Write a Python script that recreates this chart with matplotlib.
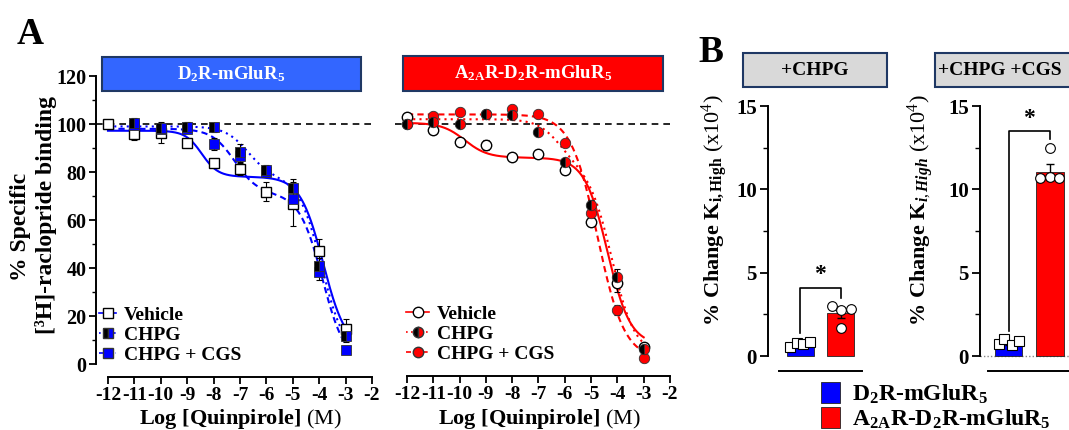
import numpy as np
import matplotlib
matplotlib.use("Agg")
import matplotlib.pyplot as plt
from matplotlib.lines import Line2D
from matplotlib.patches import Rectangle, Patch
from matplotlib.ticker import MultipleLocator

plt.rcParams['font.family'] = ['Liberation Serif', 'DejaVu Serif']
plt.rcParams['mathtext.fontset'] = 'custom'
plt.rcParams['mathtext.rm'] = 'Liberation Serif'
plt.rcParams['mathtext.bf'] = 'Liberation Serif:bold'
plt.rcParams['mathtext.it'] = 'Liberation Serif:italic:bold'

nan = np.nan
# ---------------- data (panel A) ----------------
log_quinpirole = [-12, -11, -10, -9, -8, -7, -6, -5, -4, -3]
x_tick_values = list(range(-12, -1))
y_tick_values_a = [0, 20, 40, 60, 80, 100, 120]

d2_vehicle = [100.0, 95.8, 96.4, 92.0, 83.6, 81.1, 71.8, 66.7, 47.1, 14.6]
d2_vehicle_err = [1.0, 2.5, 4.5, 1.5, 1.5, 2.5, 4.0, 9.0, 5.0, 4.0]
d2_chpg = [nan, 100.3, 98.2, 98.9, 98.6, 88.5, 80.8, 73.4, 41.0, 11.8]
d2_chpg_err = [0.0, 2.0, 2.0, 2.0, 2.0, 3.0, 2.0, 3.5, 3.0, 2.5]
d2_chpg_cgs = [nan, 99.5, 98.0, 98.0, 91.5, 86.7, 80.0, 68.6, 38.2, 5.8]
d2_chpg_cgs_err = [0.0, 1.5, 1.5, 1.5, 2.5, 2.5, 1.5, 3.0, 3.0, 1.5]

a2a_vehicle = [103.0, 97.5, 92.6, 91.3, 86.4, 87.5, 80.8, 59.3, 33.9, 7.2]
a2a_vehicle_err = [1.5, 1.5, 1.5, 2.0, 1.5, 1.5, 1.5, 2.0, 4.0, 1.5]
a2a_chpg = [100.0, 101.0, 100.0, 104.2, 103.7, 96.8, 84.0, 66.2, 36.4, 6.1]
a2a_chpg_err = [1.0, 1.5, 1.0, 1.5, 1.5, 1.5, 1.5, 2.0, 3.0, 1.0]
a2a_chpg_cgs = [100.0, 103.5, 104.9, 104.0, 106.2, 104.2, 92.2, 62.8, 22.5, 2.4]
a2a_chpg_cgs_err = [1.0, 1.0, 1.0, 1.0, 1.0, 1.0, 1.0, 2.0, 2.0, 1.0]

# two-site fit parameters: top, bottom, fraction high, logIC50 high, logIC50 low, hill high, hill low
fit_d2_vehicle = [97.2, 6.0, 0.21, -8.45, -3.85, 1.4, 1.0]
fit_d2_chpg = [99.0, 3.0, 0.22, -6.7, -3.9, 1.0, 1.0]
fit_d2_chpg_cgs = [98.0, 0.0, 0.275, -7.2, -3.88, 1.0, 1.0]
fit_a2a_vehicle = [100.5, 8.0, 0.157, -9.8, -4.38, 1.0, 1.0]
fit_a2a_chpg = [102.0, 4.0, 0.2, -6.2, -4.2, 1.0, 1.0]
fit_a2a_chpg_cgs = [104.0, 2.0, 0.0, -7.0, -4.755, 1.0, 0.85]

series_labels = ['Vehicle', 'CHPG', 'CHPG + CGS']

# ---------------- data (panel B) ----------------
chpg_means = [0.62, 2.56]
chpg_sem = [0.12, 0.3]
chpg_points_d2 = [0.56, 0.80, 0.72, 0.86]
chpg_points_a2a = [3.0, 1.7, 2.76, 2.82]
cgs_means = [0.75, 11.06]
cgs_sem = [0.10, 0.45]
cgs_points_d2 = [0.72, 1.0, 0.66, 0.92]
cgs_points_a2a = [10.66, 12.46, 10.76, 10.66]
y_tick_values_b = [0, 5, 10, 15]

W, H = 1069, 430
fig = plt.figure(figsize=(W / 100, H / 100), dpi=100)

def add_ax(l, t, r, b):
    return fig.add_axes([l / W, 1 - b / H, (r - l) / W, (b - t) / H])

def px_text(x, y, s, **kw):
    return fig.text(x / W, 1 - y / H, s, **kw)

def px_rect(x0, y0, x1, y1, fc, ec='#1F3864'):
    fig.add_artist(Rectangle((x0 / W, 1 - y1 / H), (x1 - x0) / W, (y1 - y0) / H,
                             transform=fig.transFigure, facecolor=fc, edgecolor=ec, lw=1.5))

def two_site(x, p):
    top, bottom, fh, ich, icl, hh, hl = p
    return bottom + (top - bottom) * (fh / (1 + 10 ** ((x - ich) * hh)) +
                                      (1 - fh) / (1 + 10 ** ((x - icl) * hl)))

xfit = np.linspace(-12, -3, 400)

def style_a(ax, show_y):
    ax.set_xlim(-12.4545, -2)
    ax.patch.set_alpha(0)
    for s in ['top', 'right']:
        ax.spines[s].set_visible(False)
    ax.spines['bottom'].set_bounds(-12, -2)
    ax.spines['bottom'].set_linewidth(1.4)
    ax.set_xticks(x_tick_values)
    ax.set_xticklabels([str(v) for v in x_tick_values])
    ax.tick_params(axis='x', direction='out', length=5, width=1.3, labelsize=14, pad=2)
    for lab in ax.get_xticklabels():
        lab.set_fontweight('bold')
    if show_y:
        ax.spines['left'].set_bounds(0, 120)
        ax.spines['left'].set_linewidth(1.4)
        ax.set_yticks(y_tick_values_a)
        ax.yaxis.set_minor_locator(MultipleLocator(10))
        ax.tick_params(axis='y', which='major', direction='out', length=5, width=1.3, labelsize=14.5, pad=2)
        ax.tick_params(axis='y', which='minor', direction='out', length=3, width=1.0)
        for lab in ax.get_yticklabels():
            lab.set_fontweight('bold')
    else:
        ax.spines['left'].set_visible(False)
        ax.set_yticks([])
    ax.axhline(100, color='black', ls=(0, (4, 3)), lw=1.2, zorder=1)

# -------- Panel A1: D2R-mGluR5 --------
ax1 = add_ax(96, 76, 372, 377)
ax1.set_ylim(120 - 301 / 2.4, 120)
style_a(ax1, True)
blue = '#0000FF'
ax1.plot(xfit, two_site(xfit, fit_d2_vehicle), color=blue, lw=1.5, ls='-', zorder=2)
ax1.plot(xfit, two_site(xfit, fit_d2_chpg), color=blue, lw=1.5, ls=(0, (1, 2)), zorder=2)
ax1.plot(xfit, two_site(xfit, fit_d2_chpg_cgs), color=blue, lw=1.5, ls=(0, (3, 2)), zorder=2)
eb = dict(fmt='none', ecolor='black', elinewidth=0.8, capsize=2.5, capthick=0.8, zorder=3)
ax1.errorbar(log_quinpirole, d2_vehicle, yerr=d2_vehicle_err, **eb)
ax1.errorbar(log_quinpirole, d2_chpg, yerr=d2_chpg_err, **eb)
ax1.errorbar(log_quinpirole, d2_chpg_cgs, yerr=d2_chpg_cgs_err, **eb)
ax1.plot(log_quinpirole, d2_vehicle, ls='none', marker='s', ms=7, mfc='white', mec='black', mew=1.0, zorder=4)
ax1.plot(log_quinpirole, d2_chpg_cgs, ls='none', marker='s', ms=7, mfc=blue, mec='#333333', mew=0.6, zorder=5)
ax1.plot(log_quinpirole, d2_chpg, ls='none', marker='s', ms=7, fillstyle='left', mfc='black',
         markerfacecoloralt=blue, mec='#333333', mew=0.6, zorder=6)
h1 = [Line2D([], [], color=blue, ls='-', lw=1.2, marker='s', ms=7, mfc='white', mec='black'),
      Line2D([], [], color=blue, ls=(0, (1, 2)), lw=1.2, marker='s', ms=7, fillstyle='left', mfc='black',
             markerfacecoloralt=blue, mec='#333333'),
      Line2D([], [], color=blue, ls=(0, (3, 2)), lw=1.2, marker='s', ms=7, mfc=blue, mec='#333333')]
ax1.legend(h1, series_labels, loc='center left', bbox_to_anchor=(0.01, 0.14), frameon=False,
           prop={'weight': 'bold', 'size': 14}, handlelength=0.9, handletextpad=0.4,
           labelspacing=0.12, borderpad=0, borderaxespad=0)

# -------- Panel A2: A2AR-D2R-mGluR5 --------
ax2 = add_ax(395, 76, 670, 376)
ax2.set_ylim(120 - 300 / 2.4, 120)
style_a(ax2, False)
red = '#FF0000'
ax2.plot(xfit, two_site(xfit, fit_a2a_vehicle), color=red, lw=1.5, ls='-', zorder=2)
ax2.plot(xfit, two_site(xfit, fit_a2a_chpg), color=red, lw=1.5, ls=(0, (1, 2)), zorder=2)
ax2.plot(xfit, two_site(xfit, fit_a2a_chpg_cgs), color=red, lw=1.5, ls=(0, (3, 2)), zorder=2)
ax2.errorbar(log_quinpirole, a2a_vehicle, yerr=a2a_vehicle_err, **eb)
ax2.errorbar(log_quinpirole, a2a_chpg, yerr=a2a_chpg_err, **eb)
ax2.errorbar(log_quinpirole, a2a_chpg_cgs, yerr=a2a_chpg_cgs_err, **eb)
ax2.plot(log_quinpirole, a2a_vehicle, ls='none', marker='o', ms=7.5, mfc='white', mec='black', mew=1.0, zorder=4)
ax2.plot(log_quinpirole, a2a_chpg_cgs, ls='none', marker='o', ms=7.5, mfc=red, mec='#333333', mew=0.6, zorder=5)
ax2.plot(log_quinpirole, a2a_chpg, ls='none', marker='o', ms=7.5, fillstyle='left', mfc='black',
         markerfacecoloralt=red, mec='#333333', mew=0.6, zorder=6)
h2 = [Line2D([], [], color=red, ls='-', lw=1.2, marker='o', ms=7.5, mfc='white', mec='black'),
      Line2D([], [], color=red, ls=(0, (1, 2)), lw=1.2, marker='o', ms=7.5, fillstyle='left', mfc='black',
             markerfacecoloralt=red, mec='#333333'),
      Line2D([], [], color=red, ls=(0, (3, 2)), lw=1.2, marker='o', ms=7.5, mfc=red, mec='#333333')]
ax2.legend(h2, series_labels, loc='center left', bbox_to_anchor=(0.04, 0.14), frameon=False,
           prop={'weight': 'bold', 'size': 14}, handlelength=1.2, handletextpad=0.4,
           labelspacing=0.12, borderpad=0, borderaxespad=0)

# banners and labels for A
px_rect(102, 57, 361, 91, '#3366FF')
px_text(231.5, 74, r'D$_\mathbf{2}$R-mGluR$_\mathbf{5}$', ha='center', va='center', color='white',
        fontsize=13.5, fontweight='bold')
px_rect(403, 56, 663, 91, '#FF0000')
px_text(533, 73.5, r'A$_\mathbf{2A}$R-D$_\mathbf{2}$R-mGluR$_\mathbf{5}$', ha='center', va='center',
        color='white', fontsize=13.5, fontweight='bold')
px_text(30, 34, 'A', ha='center', va='center', fontsize=27, fontweight='bold')
px_text(21, 227, '% Specific', rotation=90, ha='center', va='center', fontsize=17, fontweight='bold')
px_text(46, 215, '[³H]-raclopride binding', rotation=90, ha='center', va='center', fontsize=17,
        fontweight='bold')
px_text(240, 424, r'$\mathbf{Log\ [Quinpirole]}\ \mathrm{(M)}$', ha='center', va='baseline', fontsize=16)
px_text(539, 424, r'$\mathbf{Log\ [Quinpirole]}\ \mathrm{(M)}$', ha='center', va='baseline', fontsize=16)

# -------- Panel B --------
bar_colors = [blue, red]
def style_b(ax, xr):
    ax.set_ylim(-0.9, 15)
    ax.patch.set_alpha(0)
    for s in ['top', 'right']:
        ax.spines[s].set_visible(False)
    ax.spines['left'].set_bounds(0, 15)
    ax.spines['left'].set_linewidth(1.4)
    ax.spines['bottom'].set_bounds(*xr)
    ax.spines['bottom'].set_linewidth(1.4)
    ax.set_xticks([])
    ax.set_yticks(y_tick_values_b)
    ax.yaxis.set_minor_locator(MultipleLocator(2.5))
    ax.tick_params(axis='y', which='major', direction='out', length=6, width=1.3, labelsize=15, pad=2)
    ax.tick_params(axis='y', which='minor', direction='out', length=3.5, width=1.0)
    for lab in ax.get_yticklabels():
        lab.set_fontweight('bold')

def draw_bars(ax, means, sems, pts_d2, pts_a2a, off_d2, off_a2a):
    ax.bar([0, 1], means, width=0.667, color=bar_colors, edgecolor='#222222', linewidth=0.6, zorder=2)
    ax.errorbar([0, 1], means, yerr=sems, fmt='none', ecolor='black', elinewidth=1.0, capsize=3,
                capthick=1.0, zorder=3)
    ax.plot(np.array(off_d2), pts_d2, ls='none', marker='s', ms=7, mfc='white', mec='black', mew=0.8,
            zorder=4, clip_on=False)
    ax.plot(1 + np.array(off_a2a), pts_a2a, ls='none', marker='o', ms=7, mfc='white', mec='black',
            mew=0.8, zorder=4, clip_on=False)

bx1 = add_ax(768, 106, 875, 371)
bx1.set_xlim(-0.79, 1.85)
style_b(bx1, (-0.52, 1.53))
draw_bars(bx1, chpg_means, chpg_sem, chpg_points_d2, chpg_points_a2a,
          [-0.25, -0.07, 0.07, 0.25], [-0.22, 0.0, 0.0, 0.26])
bx1.plot([0, 0, 1, 1], [1.4, 4.07, 4.07, 3.5], color='black', lw=1.2, zorder=5)
bx1.text(0.5, 4.25, '*', ha='center', va='bottom', fontsize=17, fontweight='bold')

bx2 = add_ax(980, 106, 1090, 371)
bx2.set_xlim(-0.687, 1.96)
style_b(bx2, (-0.49, 1.96))
bx2.axhline(0, color='#888888', ls=(0, (1, 1.5)), lw=1.0, zorder=1)
draw_bars(bx2, cgs_means, cgs_sem, cgs_points_d2, cgs_points_a2a,
          [-0.24, -0.1, 0.08, 0.24], [-0.24, 0.0, 0.0, 0.22])
bx2.plot([0, 0, 1, 1], [1.5, 13.5, 13.5, 13.0], color='black', lw=1.2, zorder=5)
bx2.text(0.5, 13.65, '*', ha='center', va='bottom', fontsize=17, fontweight='bold')

px_rect(743, 53, 887, 87, '#D9D9D9')
px_text(815, 70, '+CHPG', ha='center', va='center', fontsize=14, fontweight='bold')
px_rect(935, 53, 1085, 87, '#D9D9D9')
px_text(938, 70, '+CHPG +CGS', ha='left', va='center', fontsize=14, fontweight='bold')
px_text(711, 53, 'B', ha='center', va='center', fontsize=27, fontweight='bold')
px_text(715, 210, r'$\mathbf{\%\ Change\ K_{i,High}}\ \mathrm{(x10^4)}$', rotation=90,
        ha='center', va='center', fontsize=16)
px_text(921, 210, r'$\mathbf{\%\ Change\ K}_{\mathit{i,High}}\ \mathrm{(x10^4)}$', rotation=90,
        ha='center', va='center', fontsize=16)

leg_handles = [Patch(facecolor=blue, edgecolor='#222222', lw=0.6),
               Patch(facecolor=red, edgecolor='#222222', lw=0.6)]
leg_labels = [r'D$_\mathbf{2}$R-mGluR$_\mathbf{5}$', r'A$_\mathbf{2A}$R-D$_\mathbf{2}$R-mGluR$_\mathbf{5}$']
fig.legend(leg_handles, leg_labels, loc='upper left', bbox_to_anchor=(821 / W, 1 - 382 / H),
           frameon=False, prop={'weight': 'bold', 'size': 17}, handlelength=0.8, handleheight=1.0,
           handletextpad=0.5, labelspacing=0.05, borderpad=0, borderaxespad=0)

fig.savefig('out.png', dpi=100)
